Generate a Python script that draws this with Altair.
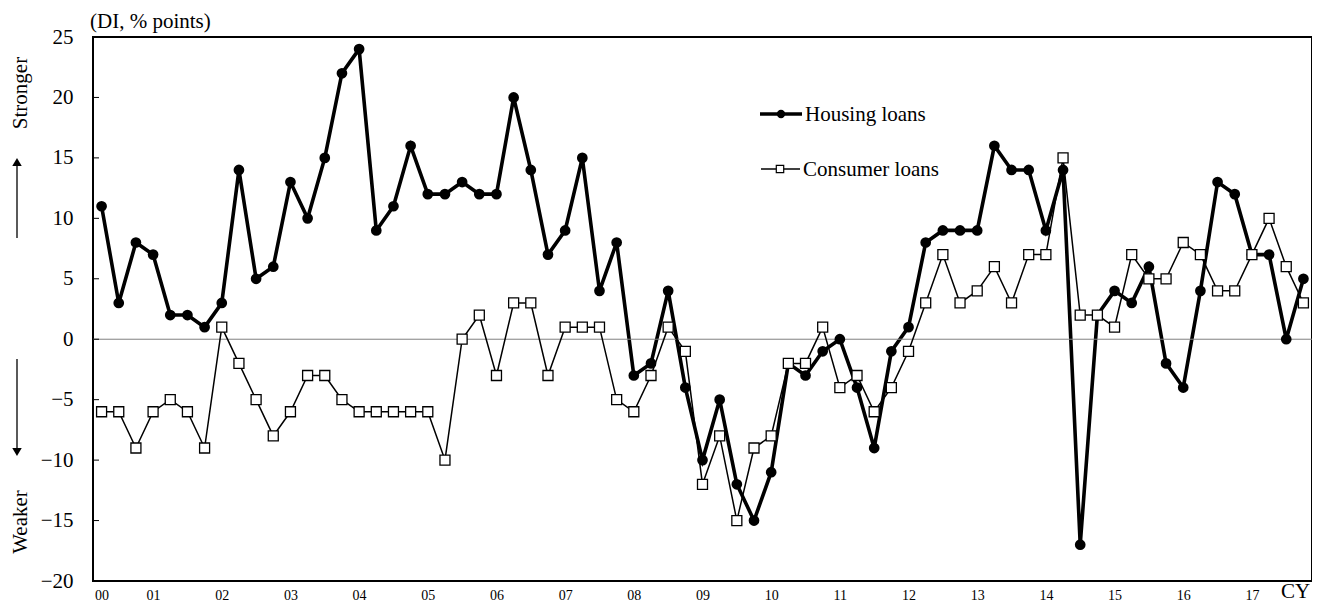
import altair as alt
import pandas as pd

# ---- data (quarterly, 2000 Q2 .. 2017 Q4) ----
quarter_index = list(range(71))
housing = [11, 3, 8, 7, 2, 2, 1, 3, 14, 5,
           6, 13, 10, 15, 22, 24, 9, 11, 16, 12,
           12, 13, 12, 12, 20, 14, 7, 9, 15, 4,
           8, -3, -2, 4, -4, -10, -5, -12, -15, -11,
           -2, -3, -1, 0, -4, -9, -1, 1, 8, 9,
           9, 9, 16, 14, 14, 9, 14, -17, 2, 4,
           3, 6, -2, -4, 4, 13, 12, 7, 7, 0,
           5]
consumer = [-6, -6, -9, -6, -5, -6, -9, 1, -2, -5,
            -8, -6, -3, -3, -5, -6, -6, -6, -6, -6,
            -10, 0, 2, -3, 3, 3, -3, 1, 1, 1,
            -5, -6, -3, 1, -1, -12, -8, -15, -9, -8,
            -2, -2, 1, -4, -3, -6, -4, -1, 3, 7,
            3, 4, 6, 3, 7, 7, 15, 2, 2, 1,
            7, 5, 5, 8, 7, 4, 4, 7, 10, 6,
            3]
series_names = ["Housing loans", "Consumer loans"]
year_tick_pos = [0, 3, 7, 11, 15, 19, 23, 27, 31, 35, 39, 43, 47, 51, 55, 59, 63, 67]
year_labels = ["00", "01", "02", "03", "04", "05", "06", "07", "08", "09",
               "10", "11", "12", "13", "14", "15", "16", "17"]
y_ticks = [-20, -15, -10, -5, 0, 5, 10, 15, 20, 25]
inner_ticks = [-15, -10, -5, 0, 5, 10, 15, 20]

FONT = "Liberation Serif"
W, H = 1219, 544

df_h = pd.DataFrame({"q": quarter_index, "v": housing})
df_c = pd.DataFrame({"q": quarter_index, "v": consumer})

label_expr = "{}[indexof({}, datum.value)]".format(
    "[" + ",".join("'%s'" % s for s in year_labels) + "]",
    "[" + ",".join(str(p) for p in year_tick_pos) + "]")

x_enc = alt.X("q:Q", scale=alt.Scale(domain=[-0.5, 70.5], nice=False, zero=False),
              axis=alt.Axis(values=year_tick_pos, labelExpr=label_expr, title=None,
                            grid=False, domain=False, ticks=False, tickSize=0,
                            labelFontSize=14, labelFont=FONT, labelPadding=7,
                            labelColor="black", labelFlush=False))
y_enc = alt.Y("v:Q", scale=alt.Scale(domain=[-20, 25], nice=False, zero=False),
              axis=alt.Axis(values=y_ticks, title=None, grid=False, domain=False,
                            ticks=False, tickSize=0, labelFontSize=21, labelFont=FONT,
                            labelPadding=20, labelColor="black"))

h_line = alt.Chart(df_h).mark_line(color="black", strokeWidth=3.6).encode(x=x_enc, y=y_enc)

zero_line = alt.Chart(pd.DataFrame({"v": [0]})).mark_rule(color="#808080", strokeWidth=1).encode(
    x=alt.value(0), x2=alt.value(W), y="v:Q")

tick_rules = alt.Chart(pd.DataFrame({"v": inner_ticks})).mark_rule(color="black", strokeWidth=1).encode(
    x=alt.value(0), x2=alt.value(6), y="v:Q")

h_pts = alt.Chart(df_h).mark_point(shape="circle", filled=True, color="black", size=115, opacity=1).encode(
    x="q:Q", y="v:Q")
c_line = alt.Chart(df_c).mark_line(color="black", strokeWidth=1.5).encode(x="q:Q", y="v:Q")
c_pts = alt.Chart(df_c).mark_point(shape="square", filled=True, fill="white", stroke="black",
                                   strokeWidth=1.3, size=100, opacity=1).encode(x="q:Q", y="v:Q")

# ---- manual legend ----
leg_h = pd.DataFrame({"name": [series_names[0]]})
leg_c = pd.DataFrame({"name": [series_names[1]]})
lh_rule = alt.Chart(leg_h).mark_rule(color="black", strokeWidth=3.6).encode(
    x=alt.value(667), x2=alt.value(709), y=alt.value(77))
lh_pt = alt.Chart(leg_h).mark_point(shape="circle", filled=True, color="black", size=70, opacity=1).encode(
    x=alt.value(688), y=alt.value(77))
lh_txt = alt.Chart(leg_h).mark_text(align="left", baseline="middle", font=FONT, fontSize=21, color="black").encode(
    x=alt.value(712), y=alt.value(78), text="name:N")
lc_rule = alt.Chart(leg_c).mark_rule(color="black", strokeWidth=1.5).encode(
    x=alt.value(668), x2=alt.value(707), y=alt.value(132))
lc_pt = alt.Chart(leg_c).mark_point(shape="square", filled=True, fill="white", stroke="black",
                                    strokeWidth=1.2, size=55, opacity=1).encode(
    x=alt.value(687), y=alt.value(132))
lc_txt = alt.Chart(leg_c).mark_text(align="left", baseline="middle", font=FONT, fontSize=21, color="black").encode(
    x=alt.value(710), y=alt.value(133), text="name:N")

# ---- annotations ----
def label(txt, x, y, angle=0, align="left", size=21):
    kw = dict(align=align, baseline="middle", font=FONT, fontSize=size, color="black")
    if angle:
        kw["angle"] = angle
    return alt.Chart(pd.DataFrame({"t": [txt]})).mark_text(**kw).encode(
        x=alt.value(x), y=alt.value(y), text="t:N")

unit_txt = label("(DI, % points)", -3, -15)
stronger = label("Stronger", -72, 56, angle=270, align="center")
weaker = label("Weaker", -72, 485, angle=270, align="center")
cy_txt = label("CY", 1188, 555)

up_line = alt.Chart(pd.DataFrame({"a": [1]})).mark_rule(color="black", strokeWidth=1.3).encode(
    x=alt.value(-76), y=alt.value(201), y2=alt.value(127))
up_head = alt.Chart(pd.DataFrame({"a": [1]})).mark_point(shape="triangle-up", filled=True, color="black",
                                                         size=90, opacity=1).encode(
    x=alt.value(-76), y=alt.value(125))
dn_line = alt.Chart(pd.DataFrame({"a": [1]})).mark_rule(color="black", strokeWidth=1.3).encode(
    x=alt.value(-76), y=alt.value(322), y2=alt.value(412))
dn_head = alt.Chart(pd.DataFrame({"a": [1]})).mark_point(shape="triangle-down", filled=True, color="black",
                                                         size=90, opacity=1).encode(
    x=alt.value(-76), y=alt.value(415))

chart = alt.layer(
    h_line, zero_line, tick_rules, h_pts, c_line, c_pts,
    lh_rule, lh_pt, lh_txt, lc_rule, lc_pt, lc_txt,
    unit_txt, stronger, weaker, cy_txt, up_line, up_head, dn_line, dn_head
).properties(
    width=W, height=H,
    autosize=alt.AutoSizeParams(type="none"),
    padding={"left": 85, "top": 29, "right": 0, "bottom": 23},
    background="white",
).configure_view(stroke="black", strokeWidth=2)

chart.save("out.html", embed_options={"renderer": "svg", "actions": False})
